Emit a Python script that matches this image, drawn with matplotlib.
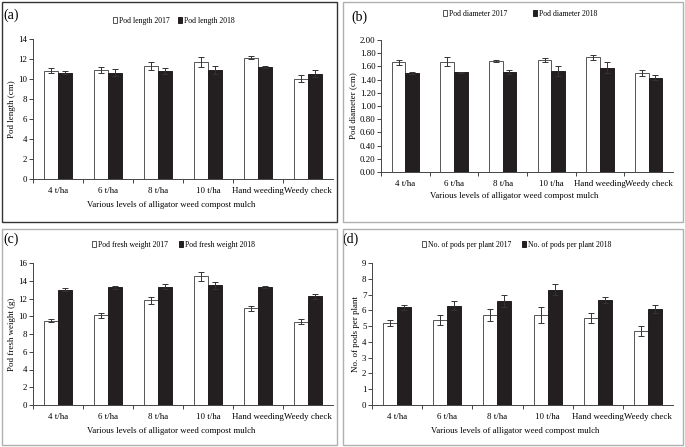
import matplotlib.pyplot as plt
import numpy as np
from matplotlib.patches import Rectangle

plt.rcParams['font.family'] = ['Liberation Serif', 'DejaVu Serif']

categories = ['4 t/ha', '6 t/ha', '8 t/ha', '10 t/ha', 'Hand weeding', 'Weedy check']
xlabel = 'Various levels of alligator weed compost mulch'

# (a) pod length
length_2017 = [10.85, 10.95, 11.3, 11.7, 12.15, 10.05]
length_2017_err = [0.25, 0.3, 0.45, 0.5, 0.2, 0.3]
length_2018 = [10.65, 10.65, 10.8, 10.9, 11.25, 10.55]
length_2018_err = [0.2, 0.3, 0.35, 0.4, 0.1, 0.3]

# (b) pod diameter
diam_2017 = [1.66, 1.67, 1.68, 1.69, 1.74, 1.50]
diam_2017_err = [0.04, 0.07, 0.015, 0.03, 0.04, 0.05]
diam_2018 = [1.50, 1.51, 1.51, 1.53, 1.58, 1.43]
diam_2018_err = [0.02, 0.01, 0.03, 0.07, 0.08, 0.04]

# (c) pod fresh weight
weight_2017 = [9.5, 10.1, 11.8, 14.5, 10.9, 9.4]
weight_2017_err = [0.2, 0.3, 0.4, 0.5, 0.3, 0.3]
weight_2018 = [13.0, 13.25, 13.35, 13.5, 13.3, 12.25]
weight_2018_err = [0.2, 0.2, 0.3, 0.4, 0.15, 0.3]

# (d) pods per plant
pods_2017 = [5.2, 5.4, 5.7, 5.7, 5.5, 4.7]
pods_2017_err = [0.2, 0.3, 0.4, 0.5, 0.3, 0.3]
pods_2018 = [6.2, 6.3, 6.6, 7.3, 6.65, 6.1]
pods_2018_err = [0.15, 0.3, 0.4, 0.35, 0.2, 0.25]

W, H = 685, 447
fig = plt.figure(figsize=(W / 100, H / 100), dpi=100)


def px_axes(x0, y0, x1, y1):
    # pixel box (top-left origin) -> figure axes
    return fig.add_axes([x0 / W, 1 - y1 / H, (x1 - x0) / W, (y1 - y0) / H])


def box(x0, y0, x1, y1, color, lw):
    fig.patches.append(Rectangle((x0 / W, 1 - y1 / H), (x1 - x0) / W, (y1 - y0) / H,
                                 transform=fig.transFigure, fill=False,
                                 edgecolor=color, linewidth=lw))


def panel(ax, v17, e17, v18, e18, ymax, ystep, ylabel, fmt, labels, letter,
          leg_x, leg_y, colsp, xlab_x):
    x = np.arange(len(categories))
    w = 0.28
    ax.bar(x - w / 2, v17, w, color='white', edgecolor='#555555', linewidth=0.7,
           label=labels[0])
    ax.bar(x + w / 2, v18, w, color='#231f20', edgecolor='#231f20', linewidth=0.7,
           label=labels[1])
    ax.errorbar(x - w / 2, v17, yerr=e17, fmt='none', ecolor='#333333',
                elinewidth=0.7, capsize=2, capthick=0.7)
    ax.errorbar(x + w / 2, v18, yerr=e18, fmt='none', ecolor='#333333',
                elinewidth=0.7, capsize=2, capthick=0.7)
    ax.set_xlim(-0.5, len(categories) - 0.5)
    ax.set_ylim(0, ymax)
    ax.set_yticks(np.arange(0, ymax + ystep / 2, ystep))
    ax.yaxis.set_major_formatter(plt.FormatStrFormatter(fmt))
    ax.set_xticks(np.arange(-0.5, len(categories) - 0.5, 1.0))
    ax.set_xticklabels([])
    ax.set_xticks(x, minor=True)
    ax.set_xticklabels(categories, minor=True)
    ax.tick_params(axis='x', which='minor', length=0, pad=6, labelsize=6.4)
    ax.tick_params(axis='x', which='major', length=3, width=0.7, color='#444444')
    ax.tick_params(axis='y', length=3, width=0.7, color='#444444', labelsize=6.4, pad=1)
    for s in ['top', 'right']:
        ax.spines[s].set_visible(False)
    for s in ['left', 'bottom']:
        ax.spines[s].set_color('#444444')
        ax.spines[s].set_linewidth(0.7)
    ax.set_xlabel(xlabel, fontsize=6.3)
    ax.xaxis.set_label_coords(xlab_x, -0.155)
    ax.set_ylabel(ylabel, fontsize=6.4, labelpad=1.5)
    fig.legend(*ax.get_legend_handles_labels(), loc='center left',
               bbox_to_anchor=(leg_x / W, 1 - leg_y / H), ncol=2, frameon=False,
               fontsize=5.6, handlelength=0.55, handleheight=0.8, handletextpad=0.2,
               columnspacing=colsp, borderpad=0, borderaxespad=0)
    ax.text(-0.1, 1.17, letter, transform=ax.transAxes, fontsize=10, va='center')


box(2, 2, 337, 222, '#333333', 1.0)
box(343, 2, 683, 222, '#b0b0b0', 1.0)
box(2, 229, 337, 445, '#b0b0b0', 1.0)
box(343, 229, 683, 445, '#b0b0b0', 1.0)

ax_a = px_axes(33, 39, 333, 179)
panel(ax_a, length_2017, length_2017_err, length_2018, length_2018_err, 14, 2,
      'Pod length (cm)', '%d', ['Pod length 2017', 'Pod length 2018'], '(a)',
      113, 21, 1.1, 0.46)

ax_b = px_axes(381, 40, 673, 172)
panel(ax_b, diam_2017, diam_2017_err, diam_2018, diam_2018_err, 2.0, 0.2,
      'Pod diameter (cm)', '%.2f', ['Pod diameter 2017', 'Pod diameter 2018'], '(b)',
      443, 14, 3.3, 0.455)

ax_c = px_axes(33, 263, 333, 405)
panel(ax_c, weight_2017, weight_2017_err, weight_2018, weight_2018_err, 16, 2,
      'Pod fresh weight (g)', '%d', ['Pod fresh weight 2017', 'Pod fresh weight 2018'], '(c)',
      92, 245, 1.4, 0.46)

ax_d = px_axes(372, 263, 673, 405)
panel(ax_d, pods_2017, pods_2017_err, pods_2018, pods_2018_err, 9, 1,
      'No. of pods per plant', '%d', ['No. of pods per plant 2017', 'No. of pods per plant 2018'], '(d)',
      422, 245, 1.4, 0.475)

fig.savefig('out.png', dpi=100)
